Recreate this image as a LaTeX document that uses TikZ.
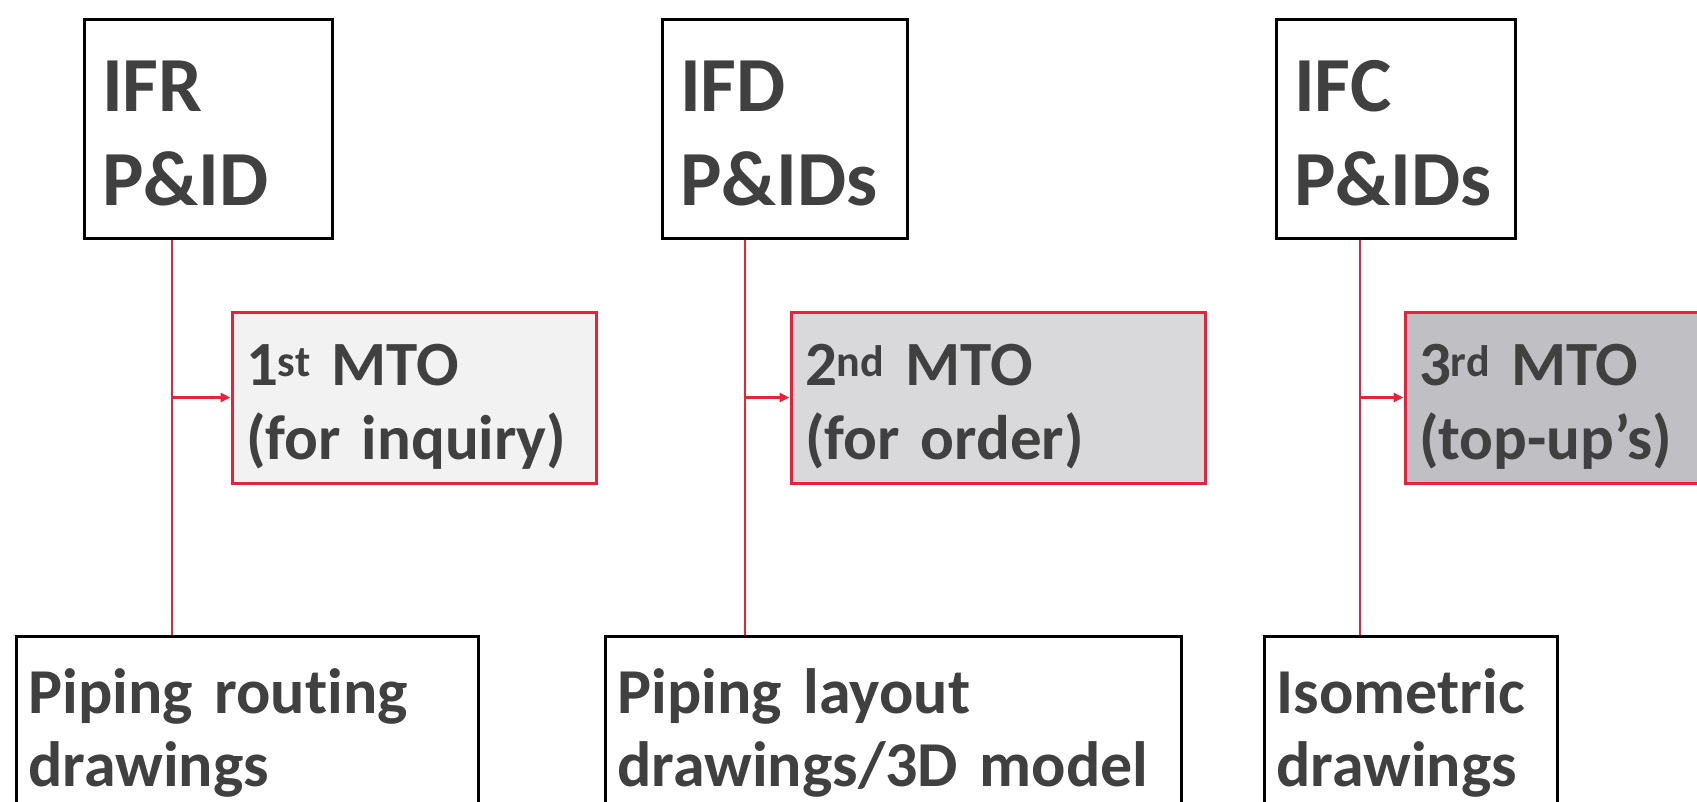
\documentclass[tikz,border=0pt]{standalone}
\usepackage{fontspec}
\setmainfont{Carlito}[Ligatures=NoCommon]
\usetikzlibrary{arrows.meta}

\definecolor{linkred}{RGB}{228,36,58}
\definecolor{textgray}{RGB}{64,64,64}
\definecolor{fillone}{RGB}{242,242,242}
\definecolor{filltwo}{RGB}{217,217,219}
\definecolor{fillthree}{RGB}{192,192,196}

\begin{document}
\begin{tikzpicture}[x=1pt, y=-1pt,
  pidbox/.style={draw=black, line width=3pt, fill=white, text=textgray, align=left,
    minimum height=219pt, inner xsep=18pt, text height=60pt, font=\fontsize{78}{94}\selectfont\bfseries},
  mtobox/.style={draw=linkred, line width=3pt, text=textgray, align=left,
    minimum height=171pt, inner xsep=14pt, text height=60pt, font=\fontsize{63}{74}\selectfont\bfseries},
  dwgbox/.style={draw=black, line width=3pt, fill=white, text=textgray, align=left,
    anchor=north west, inner xsep=12pt, inner ysep=32pt, font=\fontsize{64}{73}\selectfont\bfseries},
  link/.style={draw=linkred, line width=2.5pt}]

\clip (0,0) rectangle (1697,801);

% Issued P&IDs
\node[pidbox, text width=212pt] (ifr) at (208,128.5) {IFR\\P\&ID};
\node[pidbox, text width=209pt] (ifd) at (784.5,128.5) {IFD\\P\&IDs};
\node[pidbox, text width=203pt] (ifc) at (1395.5,128.5) {IFC\\P\&IDs};

% Material take-offs
\node[mtobox, fill=fillone, text width=336pt] (mto1) at (414,397.5) {1\textsuperscript{st} MTO\\(for inquiry)};
\node[mtobox, fill=filltwo, text width=386pt] (mto2) at (998,397.5) {2\textsuperscript{nd} MTO\\(for order)};
\node[mtobox, fill=fillthree, text width=372pt] (mto3) at (1605,397.5) {3\textsuperscript{rd} MTO\\(top-up’s)};

% Drawings
\node[dwgbox, text width=438pt] (rout) at (15,635) {Piping routing\\drawings};
\node[dwgbox, text width=552pt] (layout) at (604,635) {Piping layout\\drawings/3D model};
\node[dwgbox, text width=269pt] (iso) at (1263,635) {Isometric\\drawings};

% Junctions on the feeders
\coordinate (j1) at (172,397.5);
\coordinate (j2) at (745,397.5);
\coordinate (j3) at (1360,397.5);

% Feeders
\draw[link] (ifr.south -| j1) -- (rout.north -| j1);
\draw[link] (ifd.south -| j2) -- (layout.north -| j2);
\draw[link] (ifc.south -| j3) -- (iso.north -| j3);

% MTO arrows
\draw[link, -{Triangle[length=10pt,width=9pt]}] (j1) -- (mto1.west);
\draw[link, -{Triangle[length=10pt,width=9pt]}] (j2) -- (mto2.west);
\draw[link, -{Triangle[length=10pt,width=9pt]}] (j3) -- (mto3.west);
\end{tikzpicture}
\end{document}
